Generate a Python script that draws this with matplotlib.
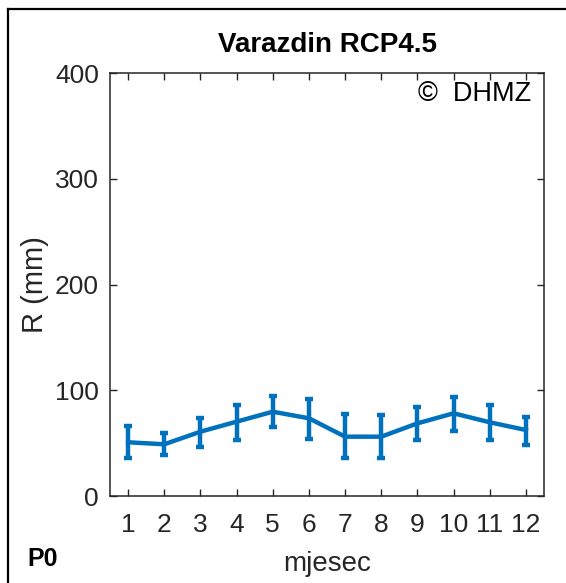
import matplotlib
matplotlib.use("Agg")
import matplotlib.pyplot as plt
from matplotlib.lines import Line2D
import numpy as np

# monthly precipitation, Varazdin RCP4.5
months = np.arange(1, 13)
r_mean = [50.8, 48.9, 60.8, 70.3, 79.7, 73.5, 56.1, 56.1, 68.7, 78.2, 69.7, 62.4]
r_low = [36.0, 39.0, 46.7, 53.0, 65.5, 53.6, 35.6, 35.6, 53.0, 61.8, 53.0, 48.2]
r_high = [66.0, 60.0, 73.5, 85.8, 94.9, 91.7, 77.8, 76.6, 84.5, 93.3, 85.8, 75.0]
y_ticks = [0, 100, 200, 300, 400]

plt.rcParams['font.family'] = ['Liberation Sans', 'DejaVu Sans']
grey = '#262626'
blue = '#0072BD'

fig = plt.figure(figsize=(5.66, 5.83), dpi=100)
ax = fig.add_axes([110 / 566, 87 / 583, 434 / 566, 423 / 583])

yerr = [np.array(r_mean) - np.array(r_low), np.array(r_high) - np.array(r_mean)]
ax.errorbar(months, r_mean, yerr=yerr, color=blue, lw=3.2, elinewidth=3.2,
            capsize=3, capthick=3.2)

ax.set_xlim(0.5, 12.5)
ax.set_ylim(0, 400)
ax.set_xticks(months)
ax.set_yticks(y_ticks)
ax.tick_params(direction='in', length=5, width=1, colors=grey, labelsize=19,
               top=True, right=True)
ax.tick_params(axis='x', pad=12)
ax.tick_params(axis='y', pad=8)
for s in ax.spines.values():
    s.set_color(grey)
    s.set_linewidth(1.1)

ax.set_title('Varazdin RCP4.5', fontsize=20, fontweight='bold', pad=15)
ax.set_xlabel('mjesec', fontsize=20, color=grey, labelpad=10)
ax.set_ylabel('R (mm)', fontsize=21, color=grey, labelpad=4)
ax.text(0.97, 0.95, '©  DHMZ', transform=ax.transAxes, ha='right', va='center',
        fontsize=19.5, color='black')

fig.text(27 / 566, 1 - 559 / 583, 'P0', fontsize=18, fontweight='bold',
         ha='left', va='center')

# frame round the panel (only top and left edges are visible)
fig.add_artist(Line2D([8 / 566, 8 / 566], [0, 1 - 9 / 583], transform=fig.transFigure,
                      color='black', lw=1.6))
fig.add_artist(Line2D([8 / 566, 1], [1 - 9 / 583, 1 - 9 / 583], transform=fig.transFigure,
                      color='black', lw=1.6))

fig.savefig('out.png', dpi=100)
